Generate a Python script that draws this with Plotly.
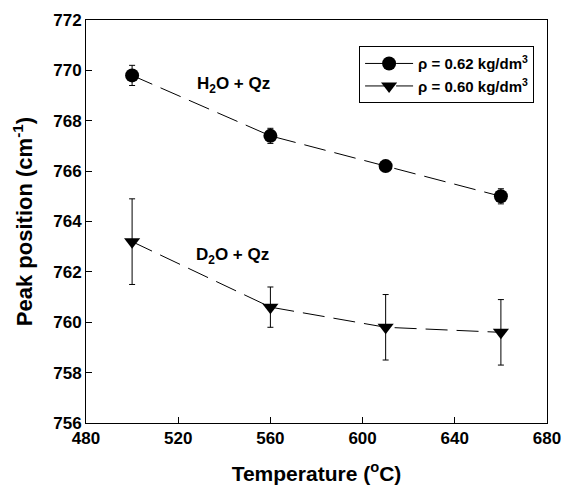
import plotly.graph_objects as go

temps = [500, 560, 610, 660]
h2o_peak = [769.8, 767.4, 766.2, 765.0]
h2o_err = [0.4, 0.3, 0.1, 0.3]
d2o_peak = [763.2, 760.6, 759.8, 759.6]
d2o_err = [1.7, 0.8, 1.3, 1.3]
x_ticks = [480, 520, 560, 600, 640, 680]
y_ticks = [756, 758, 760, 762, 764, 766, 768, 770, 772]

FONT = "Liberation Sans, Arial, sans-serif"
DASH = "22px,9px"

fig = go.Figure()
fig.add_trace(go.Scatter(
    x=temps, y=h2o_peak, mode="lines+markers",
    name="ρ = 0.62 kg/dm<sup>3</sup>",
    line=dict(color="black", width=1, dash=DASH),
    marker=dict(symbol="circle", size=14, color="black"),
    error_y=dict(type="data", array=h2o_err, color="black", thickness=1, width=3),
))
fig.add_trace(go.Scatter(
    x=temps, y=d2o_peak, mode="lines+markers",
    name="ρ = 0.60 kg/dm<sup>3</sup>",
    line=dict(color="black", width=1, dash=DASH),
    marker=dict(symbol="triangle-down", size=14, color="black"),
    error_y=dict(type="data", array=d2o_err, color="black", thickness=1, width=3),
))

fig.add_annotation(x=543.8, y=769.4, text="H<sub>2</sub>O + Qz", showarrow=False,
                   font=dict(family=FONT, size=17, color="black", weight="bold"))
fig.add_annotation(x=543.4, y=762.65, text="D<sub>2</sub>O + Qz", showarrow=False,
                   font=dict(family=FONT, size=17, color="black", weight="bold"))

axis_common = dict(
    showgrid=False, zeroline=False, showline=True, linecolor="black", linewidth=1,
    mirror=True, ticks="inside", ticklen=6, tickcolor="black", automargin=False,
    tickfont=dict(family=FONT, size=17, color="black", weight="bold"),
)
fig.update_xaxes(range=[480, 680], tickvals=x_ticks,
                 title=dict(text="Temperature (<sup>o</sup>C)", standoff=18,
                            font=dict(family=FONT, size=21, color="black", weight="bold")),
                 **axis_common)
fig.update_yaxes(range=[756, 772], tickvals=y_ticks,
                 title=dict(text="Peak position (cm<sup>-1</sup>)", standoff=14,
                            font=dict(family=FONT, size=22, color="black", weight="bold")),
                 **axis_common)

fig.update_layout(
    width=564, height=492,
    margin=dict(l=86, r=17, t=20, b=69),
    plot_bgcolor="white", paper_bgcolor="white",
    font=dict(family=FONT, color="black"),
    legend=dict(x=0.972, y=0.935, xanchor="right", yanchor="top",
                bgcolor="white", bordercolor="black", borderwidth=1,
                itemwidth=48,
                font=dict(family=FONT, size=15, color="black", weight="bold")),
)

fig.write_html("out.html")
